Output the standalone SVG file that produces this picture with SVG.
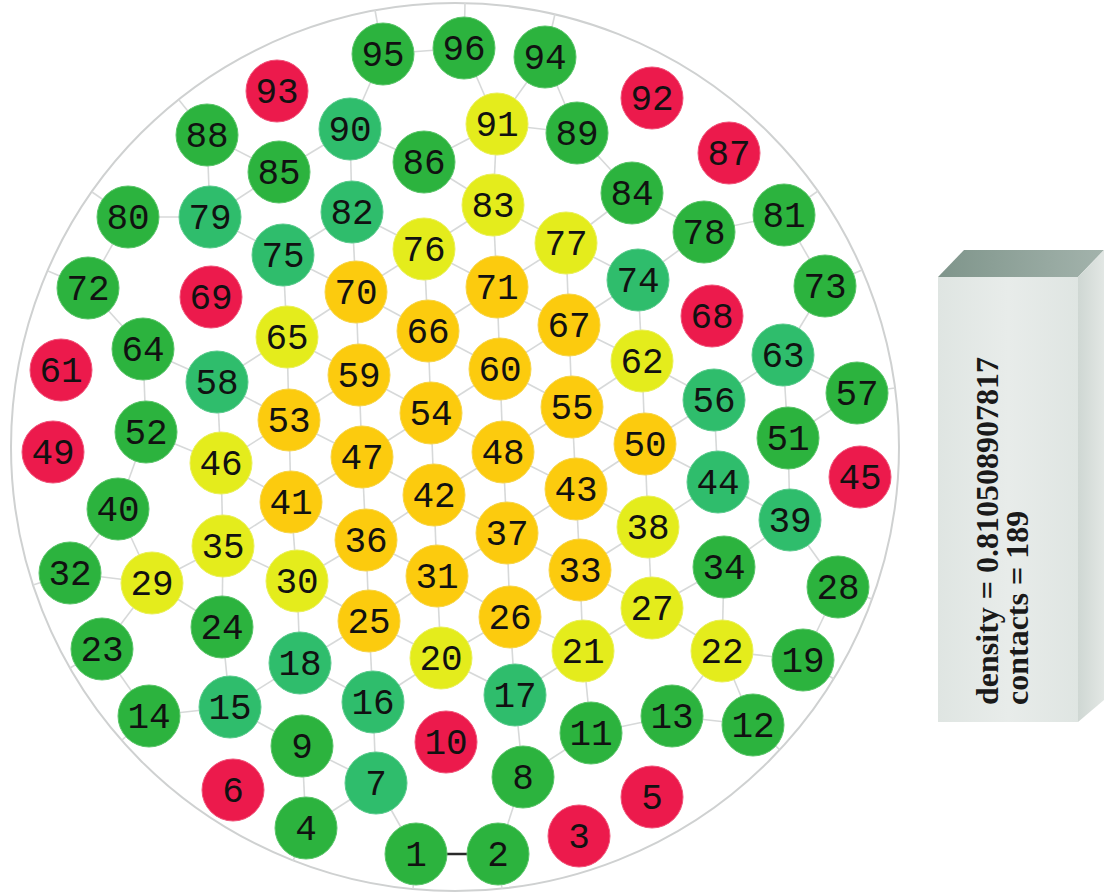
<svg xmlns="http://www.w3.org/2000/svg" width="1106" height="892" viewBox="0 0 1106 892">
<defs>
<style>
.bg{fill:#ffffff}
.rim{fill:none;stroke:#cfd1d1;stroke-width:2}
.c line{stroke:#d7d9d9;stroke-width:1.6}
.c line.k{stroke:#2a2a2a;stroke-width:2.6}
.node circle{stroke-width:1}
.o{fill:#fccb0e;stroke:#f7d54a}
.y{fill:#e4ec1c;stroke:#eaf05a}
.t{fill:#2fbd6c;stroke:#5ccb8e}
.g{fill:#2cb33e;stroke:#5bc56a}
.r{fill:#ec1a4c;stroke:#f0557a}
.node text{font-family:"Liberation Mono","DejaVu Sans Mono",monospace;font-size:36px;fill:#111;text-anchor:middle}
.bx text{font-family:"Liberation Serif","Times New Roman",serif;font-size:32px;font-weight:bold;fill:#1a1a1a}
</style>
<linearGradient id="topg" x1="0" y1="0" x2="1" y2="0">
<stop offset="0" stop-color="#7f958b"/>
<stop offset="1" stop-color="#a3b3ac"/>
</linearGradient>
<linearGradient id="frontg" x1="0" y1="0" x2="1" y2="0">
<stop offset="0" stop-color="#dfe5e2"/>
<stop offset="0.5" stop-color="#e8ecea"/>
<stop offset="1" stop-color="#dfe5e2"/>
</linearGradient>
<linearGradient id="sideg" x1="0" y1="0" x2="1" y2="0">
<stop offset="0" stop-color="#cfd7d3"/>
<stop offset="1" stop-color="#e2e7e4"/>
</linearGradient>
</defs>
<rect class="bg" x="0" y="0" width="1106" height="892"/>
<circle class="rim" cx="455" cy="447" r="444"/>
<g id="connectors" class="c">
<line x1="356" y1="292" x2="352" y2="212"/>
<line x1="356" y1="292" x2="359" y2="375"/>
<line x1="356" y1="292" x2="283" y2="255"/>
<line x1="356" y1="292" x2="287" y2="337"/>
<line x1="356" y1="292" x2="424" y2="249"/>
<line x1="356" y1="292" x2="428" y2="331"/>
<line x1="497" y1="287" x2="493" y2="205"/>
<line x1="497" y1="287" x2="500" y2="369"/>
<line x1="497" y1="287" x2="424" y2="249"/>
<line x1="497" y1="287" x2="428" y2="331"/>
<line x1="497" y1="287" x2="566" y2="243"/>
<line x1="497" y1="287" x2="569" y2="325"/>
<line x1="428" y1="331" x2="424" y2="249"/>
<line x1="428" y1="331" x2="431" y2="413"/>
<line x1="428" y1="331" x2="359" y2="375"/>
<line x1="428" y1="331" x2="500" y2="369"/>
<line x1="569" y1="325" x2="566" y2="243"/>
<line x1="569" y1="325" x2="572" y2="407"/>
<line x1="569" y1="325" x2="500" y2="369"/>
<line x1="569" y1="325" x2="638" y2="280"/>
<line x1="569" y1="325" x2="642" y2="361"/>
<line x1="359" y1="375" x2="362" y2="457"/>
<line x1="359" y1="375" x2="287" y2="337"/>
<line x1="359" y1="375" x2="289" y2="420"/>
<line x1="359" y1="375" x2="431" y2="413"/>
<line x1="500" y1="369" x2="503" y2="452"/>
<line x1="500" y1="369" x2="431" y2="413"/>
<line x1="500" y1="369" x2="572" y2="407"/>
<line x1="431" y1="413" x2="434" y2="495"/>
<line x1="431" y1="413" x2="362" y2="457"/>
<line x1="431" y1="413" x2="503" y2="452"/>
<line x1="572" y1="407" x2="576" y2="489"/>
<line x1="572" y1="407" x2="503" y2="452"/>
<line x1="572" y1="407" x2="642" y2="361"/>
<line x1="572" y1="407" x2="645" y2="444"/>
<line x1="289" y1="420" x2="287" y2="337"/>
<line x1="289" y1="420" x2="291" y2="502"/>
<line x1="289" y1="420" x2="217" y2="382"/>
<line x1="289" y1="420" x2="221" y2="463"/>
<line x1="289" y1="420" x2="362" y2="457"/>
<line x1="362" y1="457" x2="366" y2="540"/>
<line x1="362" y1="457" x2="291" y2="502"/>
<line x1="362" y1="457" x2="434" y2="495"/>
<line x1="503" y1="452" x2="507" y2="533"/>
<line x1="503" y1="452" x2="434" y2="495"/>
<line x1="503" y1="452" x2="576" y2="489"/>
<line x1="645" y1="444" x2="642" y2="361"/>
<line x1="645" y1="444" x2="648" y2="527"/>
<line x1="645" y1="444" x2="576" y2="489"/>
<line x1="645" y1="444" x2="714" y2="400"/>
<line x1="645" y1="444" x2="718" y2="482"/>
<line x1="291" y1="502" x2="297" y2="581"/>
<line x1="291" y1="502" x2="221" y2="463"/>
<line x1="291" y1="502" x2="223" y2="546"/>
<line x1="291" y1="502" x2="366" y2="540"/>
<line x1="434" y1="495" x2="437" y2="576"/>
<line x1="434" y1="495" x2="366" y2="540"/>
<line x1="434" y1="495" x2="507" y2="533"/>
<line x1="576" y1="489" x2="580" y2="570"/>
<line x1="576" y1="489" x2="507" y2="533"/>
<line x1="576" y1="489" x2="648" y2="527"/>
<line x1="366" y1="540" x2="369" y2="621"/>
<line x1="366" y1="540" x2="297" y2="581"/>
<line x1="366" y1="540" x2="437" y2="576"/>
<line x1="507" y1="533" x2="510" y2="617"/>
<line x1="507" y1="533" x2="437" y2="576"/>
<line x1="507" y1="533" x2="580" y2="570"/>
<line x1="437" y1="576" x2="441" y2="658"/>
<line x1="437" y1="576" x2="369" y2="621"/>
<line x1="437" y1="576" x2="510" y2="617"/>
<line x1="580" y1="570" x2="583" y2="651"/>
<line x1="580" y1="570" x2="510" y2="617"/>
<line x1="580" y1="570" x2="648" y2="527"/>
<line x1="580" y1="570" x2="652" y2="608"/>
<line x1="369" y1="621" x2="373" y2="702"/>
<line x1="369" y1="621" x2="297" y2="581"/>
<line x1="369" y1="621" x2="300" y2="663"/>
<line x1="369" y1="621" x2="441" y2="658"/>
<line x1="510" y1="617" x2="515" y2="695"/>
<line x1="510" y1="617" x2="441" y2="658"/>
<line x1="510" y1="617" x2="583" y2="651"/>
<line x1="424" y1="249" x2="352" y2="212"/>
<line x1="424" y1="249" x2="493" y2="205"/>
<line x1="566" y1="243" x2="493" y2="205"/>
<line x1="566" y1="243" x2="632" y2="193"/>
<line x1="566" y1="243" x2="638" y2="280"/>
<line x1="493" y1="205" x2="497" y2="124"/>
<line x1="493" y1="205" x2="424" y2="162"/>
<line x1="497" y1="124" x2="464" y2="48"/>
<line x1="497" y1="124" x2="545" y2="57"/>
<line x1="497" y1="124" x2="577" y2="133"/>
<line x1="497" y1="124" x2="424" y2="162"/>
<line x1="287" y1="337" x2="283" y2="255"/>
<line x1="287" y1="337" x2="217" y2="382"/>
<line x1="642" y1="361" x2="638" y2="280"/>
<line x1="642" y1="361" x2="714" y2="400"/>
<line x1="221" y1="463" x2="217" y2="382"/>
<line x1="221" y1="463" x2="223" y2="546"/>
<line x1="221" y1="463" x2="146" y2="432"/>
<line x1="223" y1="546" x2="222" y2="627"/>
<line x1="223" y1="546" x2="152" y2="583"/>
<line x1="223" y1="546" x2="297" y2="581"/>
<line x1="152" y1="583" x2="118" y2="509"/>
<line x1="152" y1="583" x2="70" y2="573"/>
<line x1="152" y1="583" x2="102" y2="649"/>
<line x1="152" y1="583" x2="222" y2="627"/>
<line x1="297" y1="581" x2="300" y2="663"/>
<line x1="648" y1="527" x2="652" y2="608"/>
<line x1="648" y1="527" x2="718" y2="482"/>
<line x1="652" y1="608" x2="583" y2="651"/>
<line x1="652" y1="608" x2="724" y2="567"/>
<line x1="652" y1="608" x2="722" y2="651"/>
<line x1="441" y1="658" x2="373" y2="702"/>
<line x1="441" y1="658" x2="515" y2="695"/>
<line x1="583" y1="651" x2="591" y2="733"/>
<line x1="583" y1="651" x2="515" y2="695"/>
<line x1="722" y1="651" x2="724" y2="567"/>
<line x1="722" y1="651" x2="672" y2="716"/>
<line x1="722" y1="651" x2="803" y2="660"/>
<line x1="722" y1="651" x2="753" y2="725"/>
<line x1="350" y1="129" x2="352" y2="212"/>
<line x1="350" y1="129" x2="279" y2="172"/>
<line x1="350" y1="129" x2="424" y2="162"/>
<line x1="350" y1="129" x2="383" y2="54"/>
<line x1="352" y1="212" x2="283" y2="255"/>
<line x1="210" y1="217" x2="128" y2="217"/>
<line x1="210" y1="217" x2="207" y2="135"/>
<line x1="210" y1="217" x2="279" y2="172"/>
<line x1="210" y1="217" x2="283" y2="255"/>
<line x1="638" y1="280" x2="704" y2="232"/>
<line x1="217" y1="382" x2="143" y2="349"/>
<line x1="783" y1="355" x2="714" y2="400"/>
<line x1="783" y1="355" x2="788" y2="438"/>
<line x1="783" y1="355" x2="825" y2="286"/>
<line x1="783" y1="355" x2="857" y2="393"/>
<line x1="714" y1="400" x2="718" y2="482"/>
<line x1="790" y1="520" x2="788" y2="438"/>
<line x1="790" y1="520" x2="718" y2="482"/>
<line x1="790" y1="520" x2="724" y2="567"/>
<line x1="790" y1="520" x2="838" y2="587"/>
<line x1="300" y1="663" x2="373" y2="702"/>
<line x1="300" y1="663" x2="230" y2="707"/>
<line x1="230" y1="707" x2="222" y2="627"/>
<line x1="230" y1="707" x2="302" y2="746"/>
<line x1="230" y1="707" x2="149" y2="716"/>
<line x1="373" y1="702" x2="376" y2="783"/>
<line x1="515" y1="695" x2="523" y2="777"/>
<line x1="376" y1="783" x2="302" y2="746"/>
<line x1="376" y1="783" x2="306" y2="828"/>
<line x1="376" y1="783" x2="416" y2="854"/>
<line x1="383" y1="54" x2="464" y2="48"/>
<line x1="545" y1="57" x2="577" y2="133"/>
<line x1="207" y1="135" x2="279" y2="172"/>
<line x1="632" y1="193" x2="577" y2="133"/>
<line x1="632" y1="193" x2="704" y2="232"/>
<line x1="704" y1="232" x2="784" y2="215"/>
<line x1="88" y1="288" x2="128" y2="217"/>
<line x1="88" y1="288" x2="143" y2="349"/>
<line x1="143" y1="349" x2="146" y2="432"/>
<line x1="146" y1="432" x2="118" y2="509"/>
<line x1="118" y1="509" x2="70" y2="573"/>
<line x1="102" y1="649" x2="149" y2="716"/>
<line x1="302" y1="746" x2="306" y2="828"/>
<line x1="498" y1="854" x2="523" y2="777"/>
<line x1="523" y1="777" x2="591" y2="733"/>
<line x1="591" y1="733" x2="672" y2="716"/>
<line x1="672" y1="716" x2="753" y2="725"/>
<line x1="803" y1="660" x2="838" y2="587"/>
<line x1="857" y1="393" x2="788" y2="438"/>
<line x1="825" y1="286" x2="784" y2="215"/>
<line x1="383" y1="54" x2="375" y2="10"/>
<line x1="464" y1="48" x2="465" y2="3"/>
<line x1="545" y1="57" x2="555" y2="14"/>
<line x1="207" y1="135" x2="179" y2="100"/>
<line x1="128" y1="217" x2="92" y2="192"/>
<line x1="88" y1="288" x2="48" y2="271"/>
<line x1="70" y1="573" x2="33" y2="585"/>
<line x1="102" y1="649" x2="70" y2="668"/>
<line x1="149" y1="716" x2="122" y2="740"/>
<line x1="306" y1="828" x2="293" y2="861"/>
<line x1="416" y1="854" x2="413" y2="889"/>
<line x1="498" y1="854" x2="502" y2="889"/>
<line x1="753" y1="725" x2="780" y2="750"/>
<line x1="803" y1="660" x2="834" y2="679"/>
<line x1="838" y1="587" x2="872" y2="599"/>
<line x1="857" y1="393" x2="895" y2="388"/>
<line x1="825" y1="286" x2="862" y2="270"/>
<line x1="784" y1="215" x2="818" y2="191"/>
<line class="k" x1="416" y1="854" x2="498" y2="854"/>
</g>
<g id="n1" class="node"><circle class="g" cx="416" cy="854" r="31"/><text x="416" y="866">1</text></g>
<g id="n2" class="node"><circle class="g" cx="498" cy="854" r="31"/><text x="498" y="866">2</text></g>
<g id="n3" class="node"><circle class="r" cx="579" cy="836" r="31"/><text x="579" y="848">3</text></g>
<g id="n4" class="node"><circle class="g" cx="306" cy="828" r="31"/><text x="306" y="840">4</text></g>
<g id="n5" class="node"><circle class="r" cx="652" cy="797" r="31"/><text x="652" y="809">5</text></g>
<g id="n6" class="node"><circle class="r" cx="233" cy="790" r="31"/><text x="233" y="802">6</text></g>
<g id="n7" class="node"><circle class="t" cx="376" cy="783" r="31"/><text x="376" y="795">7</text></g>
<g id="n8" class="node"><circle class="g" cx="523" cy="777" r="31"/><text x="523" y="789">8</text></g>
<g id="n9" class="node"><circle class="g" cx="302" cy="746" r="31"/><text x="302" y="758">9</text></g>
<g id="n10" class="node"><circle class="r" cx="446" cy="742" r="31"/><text x="446" y="754">10</text></g>
<g id="n11" class="node"><circle class="g" cx="591" cy="733" r="31"/><text x="591" y="745">11</text></g>
<g id="n12" class="node"><circle class="g" cx="753" cy="725" r="31"/><text x="753" y="737">12</text></g>
<g id="n13" class="node"><circle class="g" cx="672" cy="716" r="31"/><text x="672" y="728">13</text></g>
<g id="n14" class="node"><circle class="g" cx="149" cy="716" r="31"/><text x="149" y="728">14</text></g>
<g id="n15" class="node"><circle class="t" cx="230" cy="707" r="31"/><text x="230" y="719">15</text></g>
<g id="n16" class="node"><circle class="t" cx="373" cy="702" r="31"/><text x="373" y="714">16</text></g>
<g id="n17" class="node"><circle class="t" cx="515" cy="695" r="31"/><text x="515" y="707">17</text></g>
<g id="n18" class="node"><circle class="t" cx="300" cy="663" r="31"/><text x="300" y="675">18</text></g>
<g id="n19" class="node"><circle class="g" cx="803" cy="660" r="31"/><text x="803" y="672">19</text></g>
<g id="n20" class="node"><circle class="y" cx="441" cy="658" r="31"/><text x="441" y="670">20</text></g>
<g id="n21" class="node"><circle class="y" cx="583" cy="651" r="31"/><text x="583" y="663">21</text></g>
<g id="n22" class="node"><circle class="y" cx="722" cy="651" r="31"/><text x="722" y="663">22</text></g>
<g id="n23" class="node"><circle class="g" cx="102" cy="649" r="31"/><text x="102" y="661">23</text></g>
<g id="n24" class="node"><circle class="g" cx="222" cy="627" r="31"/><text x="222" y="639">24</text></g>
<g id="n25" class="node"><circle class="o" cx="369" cy="621" r="31"/><text x="369" y="633">25</text></g>
<g id="n26" class="node"><circle class="o" cx="510" cy="617" r="31"/><text x="510" y="629">26</text></g>
<g id="n27" class="node"><circle class="y" cx="652" cy="608" r="31"/><text x="652" y="620">27</text></g>
<g id="n28" class="node"><circle class="g" cx="838" cy="587" r="31"/><text x="838" y="599">28</text></g>
<g id="n29" class="node"><circle class="y" cx="152" cy="583" r="31"/><text x="152" y="595">29</text></g>
<g id="n30" class="node"><circle class="y" cx="297" cy="581" r="31"/><text x="297" y="593">30</text></g>
<g id="n31" class="node"><circle class="o" cx="437" cy="576" r="31"/><text x="437" y="588">31</text></g>
<g id="n32" class="node"><circle class="g" cx="70" cy="573" r="31"/><text x="70" y="585">32</text></g>
<g id="n33" class="node"><circle class="o" cx="580" cy="570" r="31"/><text x="580" y="582">33</text></g>
<g id="n34" class="node"><circle class="g" cx="724" cy="567" r="31"/><text x="724" y="579">34</text></g>
<g id="n35" class="node"><circle class="y" cx="223" cy="546" r="31"/><text x="223" y="558">35</text></g>
<g id="n36" class="node"><circle class="o" cx="366" cy="540" r="31"/><text x="366" y="552">36</text></g>
<g id="n37" class="node"><circle class="o" cx="507" cy="533" r="31"/><text x="507" y="545">37</text></g>
<g id="n38" class="node"><circle class="y" cx="648" cy="527" r="31"/><text x="648" y="539">38</text></g>
<g id="n39" class="node"><circle class="t" cx="790" cy="520" r="31"/><text x="790" y="532">39</text></g>
<g id="n40" class="node"><circle class="g" cx="118" cy="509" r="31"/><text x="118" y="521">40</text></g>
<g id="n41" class="node"><circle class="o" cx="291" cy="502" r="31"/><text x="291" y="514">41</text></g>
<g id="n42" class="node"><circle class="o" cx="434" cy="495" r="31"/><text x="434" y="507">42</text></g>
<g id="n43" class="node"><circle class="o" cx="576" cy="489" r="31"/><text x="576" y="501">43</text></g>
<g id="n44" class="node"><circle class="t" cx="718" cy="482" r="31"/><text x="718" y="494">44</text></g>
<g id="n45" class="node"><circle class="r" cx="860" cy="477" r="31"/><text x="860" y="489">45</text></g>
<g id="n46" class="node"><circle class="y" cx="221" cy="463" r="31"/><text x="221" y="475">46</text></g>
<g id="n47" class="node"><circle class="o" cx="362" cy="457" r="31"/><text x="362" y="469">47</text></g>
<g id="n48" class="node"><circle class="o" cx="503" cy="452" r="31"/><text x="503" y="464">48</text></g>
<g id="n49" class="node"><circle class="r" cx="53" cy="452" r="31"/><text x="53" y="464">49</text></g>
<g id="n50" class="node"><circle class="o" cx="645" cy="444" r="31"/><text x="645" y="456">50</text></g>
<g id="n51" class="node"><circle class="g" cx="788" cy="438" r="31"/><text x="788" y="450">51</text></g>
<g id="n52" class="node"><circle class="g" cx="146" cy="432" r="31"/><text x="146" y="444">52</text></g>
<g id="n53" class="node"><circle class="o" cx="289" cy="420" r="31"/><text x="289" y="432">53</text></g>
<g id="n54" class="node"><circle class="o" cx="431" cy="413" r="31"/><text x="431" y="425">54</text></g>
<g id="n55" class="node"><circle class="o" cx="572" cy="407" r="31"/><text x="572" y="419">55</text></g>
<g id="n56" class="node"><circle class="t" cx="714" cy="400" r="31"/><text x="714" y="412">56</text></g>
<g id="n57" class="node"><circle class="g" cx="857" cy="393" r="31"/><text x="857" y="405">57</text></g>
<g id="n58" class="node"><circle class="t" cx="217" cy="382" r="31"/><text x="217" y="394">58</text></g>
<g id="n59" class="node"><circle class="o" cx="359" cy="375" r="31"/><text x="359" y="387">59</text></g>
<g id="n60" class="node"><circle class="o" cx="500" cy="369" r="31"/><text x="500" y="381">60</text></g>
<g id="n61" class="node"><circle class="r" cx="61" cy="370" r="31"/><text x="61" y="382">61</text></g>
<g id="n62" class="node"><circle class="y" cx="642" cy="361" r="31"/><text x="642" y="373">62</text></g>
<g id="n63" class="node"><circle class="t" cx="783" cy="355" r="31"/><text x="783" y="367">63</text></g>
<g id="n64" class="node"><circle class="g" cx="143" cy="349" r="31"/><text x="143" y="361">64</text></g>
<g id="n65" class="node"><circle class="y" cx="287" cy="337" r="31"/><text x="287" y="349">65</text></g>
<g id="n66" class="node"><circle class="o" cx="428" cy="331" r="31"/><text x="428" y="343">66</text></g>
<g id="n67" class="node"><circle class="o" cx="569" cy="325" r="31"/><text x="569" y="337">67</text></g>
<g id="n68" class="node"><circle class="r" cx="712" cy="316" r="31"/><text x="712" y="328">68</text></g>
<g id="n69" class="node"><circle class="r" cx="211" cy="297" r="31"/><text x="211" y="309">69</text></g>
<g id="n70" class="node"><circle class="o" cx="356" cy="292" r="31"/><text x="356" y="304">70</text></g>
<g id="n71" class="node"><circle class="o" cx="497" cy="287" r="31"/><text x="497" y="299">71</text></g>
<g id="n72" class="node"><circle class="g" cx="88" cy="288" r="31"/><text x="88" y="300">72</text></g>
<g id="n73" class="node"><circle class="g" cx="825" cy="286" r="31"/><text x="825" y="298">73</text></g>
<g id="n74" class="node"><circle class="t" cx="638" cy="280" r="31"/><text x="638" y="292">74</text></g>
<g id="n75" class="node"><circle class="t" cx="283" cy="255" r="31"/><text x="283" y="267">75</text></g>
<g id="n76" class="node"><circle class="y" cx="424" cy="249" r="31"/><text x="424" y="261">76</text></g>
<g id="n77" class="node"><circle class="y" cx="566" cy="243" r="31"/><text x="566" y="255">77</text></g>
<g id="n78" class="node"><circle class="g" cx="704" cy="232" r="31"/><text x="704" y="244">78</text></g>
<g id="n79" class="node"><circle class="t" cx="210" cy="217" r="31"/><text x="210" y="229">79</text></g>
<g id="n80" class="node"><circle class="g" cx="128" cy="217" r="31"/><text x="128" y="229">80</text></g>
<g id="n81" class="node"><circle class="g" cx="784" cy="215" r="31"/><text x="784" y="227">81</text></g>
<g id="n82" class="node"><circle class="t" cx="352" cy="212" r="31"/><text x="352" y="224">82</text></g>
<g id="n83" class="node"><circle class="y" cx="493" cy="205" r="31"/><text x="493" y="217">83</text></g>
<g id="n84" class="node"><circle class="g" cx="632" cy="193" r="31"/><text x="632" y="205">84</text></g>
<g id="n85" class="node"><circle class="g" cx="279" cy="172" r="31"/><text x="279" y="184">85</text></g>
<g id="n86" class="node"><circle class="g" cx="424" cy="162" r="31"/><text x="424" y="174">86</text></g>
<g id="n87" class="node"><circle class="r" cx="729" cy="153" r="31"/><text x="729" y="165">87</text></g>
<g id="n88" class="node"><circle class="g" cx="207" cy="135" r="31"/><text x="207" y="147">88</text></g>
<g id="n89" class="node"><circle class="g" cx="577" cy="133" r="31"/><text x="577" y="145">89</text></g>
<g id="n90" class="node"><circle class="t" cx="350" cy="129" r="31"/><text x="350" y="141">90</text></g>
<g id="n91" class="node"><circle class="y" cx="497" cy="124" r="31"/><text x="497" y="136">91</text></g>
<g id="n92" class="node"><circle class="r" cx="652" cy="98" r="31"/><text x="652" y="110">92</text></g>
<g id="n93" class="node"><circle class="r" cx="277" cy="91" r="31"/><text x="277" y="103">93</text></g>
<g id="n94" class="node"><circle class="g" cx="545" cy="57" r="31"/><text x="545" y="69">94</text></g>
<g id="n95" class="node"><circle class="g" cx="383" cy="54" r="31"/><text x="383" y="66">95</text></g>
<g id="n96" class="node"><circle class="g" cx="464" cy="48" r="31"/><text x="464" y="60">96</text></g>
<g id="infobox" class="bx">
<polygon points="938,277 964,250 1104,250 1078,277" fill="url(#topg)"/>
<polygon points="1078,277 1104,250 1104,700 1078,722" fill="url(#sideg)"/>
<rect x="938" y="277" width="140" height="445" fill="url(#frontg)"/>
<text transform="translate(998,705) rotate(-90)">density = 0.810508907817</text>
<text transform="translate(1028,705) rotate(-90)">contacts = 189</text>
</g>
</svg>
